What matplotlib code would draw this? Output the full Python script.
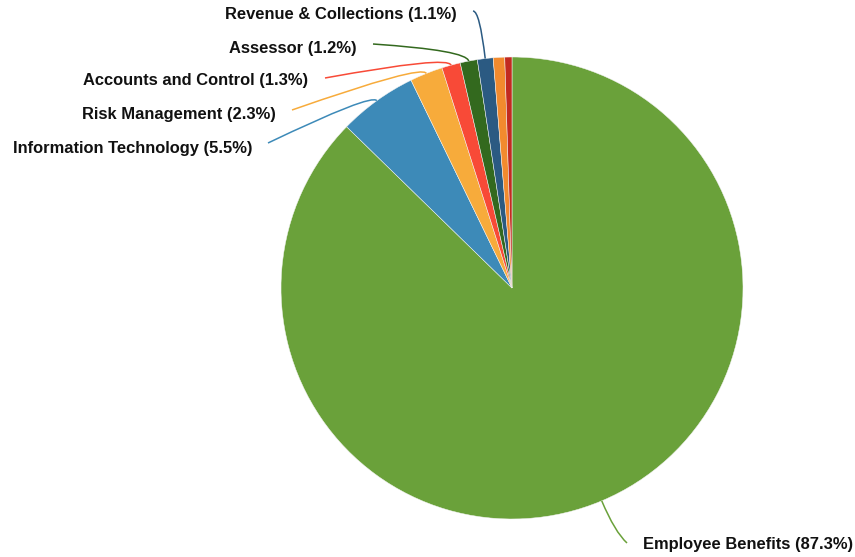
import numpy as np
import matplotlib.pyplot as plt
from matplotlib.path import Path
from matplotlib.patches import PathPatch

# Department share of spending (percent), clockwise from 12 o'clock
departments = ["Employee Benefits", "Information Technology", "Risk Management",
               "Accounts and Control", "Assessor", "Revenue & Collections", "", ""]
shares = [87.3, 5.5, 2.3, 1.3, 1.2, 1.1, 0.8, 0.5]
colors = ["#6aa13a", "#3d8ab8", "#f7ab3b", "#f84a37", "#33691e", "#2b5a82", "#f28a2e", "#c22a20"]

W, H = 855, 557
center = (512, H - 288)
radius = 231

fig = plt.figure(figsize=(W / 100, H / 100), dpi=100)
ax = fig.add_axes([0, 0, 1, 1])

wedges, _ = ax.pie(shares, colors=colors, startangle=90, counterclock=False,
                   center=center, radius=radius, frame=True,
                   wedgeprops=dict(edgecolor="#f4f4f4", linewidth=0.35))
ax.set_xlim(0, W)
ax.set_ylim(0, H)
ax.set_aspect("equal")
ax.axis("off")

# label placement: (text x, text y, line end x, line end y, elbow length, align)
placement = {
    "Employee Benefits": (643, 545, 627, 543, 34, "left"),
    "Information Technology": (252, 148, 268, 143, 9, "right"),
    "Risk Management": (276, 114, 292, 110, 10, "right"),
    "Accounts and Control": (308, 81, 325, 78, 10, "right"),
    "Assessor": (357, 48, 373, 44, 11, "right"),
    "Revenue & Collections": (457, 15, 473, 11, 48, "right"),
}

for w, name, pct, col in zip(wedges, departments, shares, colors):
    if name not in placement:
        continue
    tx, ty, ex, ey, elbow, ha = placement[name]
    mid = np.deg2rad((w.theta1 + w.theta2) / 2)
    ux, uy = np.cos(mid), np.sin(mid)
    p0 = (center[0] + radius * ux, center[1] + radius * uy)
    p1 = (center[0] + (radius + elbow) * ux, center[1] + (radius + elbow) * uy)
    p2 = (ex, H - ey)
    path = Path([p0, p1, p2], [Path.MOVETO, Path.CURVE3, Path.CURVE3])
    ax.add_patch(PathPatch(path, facecolor="none", edgecolor=col, lw=1.1))
    ax.text(tx, H - ty, f"{name} ({pct:.1f}%)", ha=ha, va="center",
            fontsize=11.9, fontweight="bold", family="Liberation Sans", color="#111111")

fig.savefig("out.png", dpi=100)
